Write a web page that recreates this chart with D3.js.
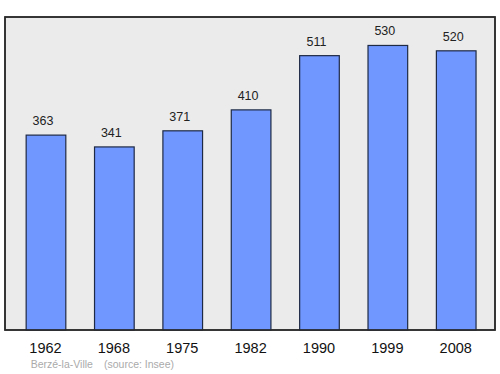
<!DOCTYPE html>
<html>
<head>
  <meta charset="utf-8">
  <script src="https://d3js.org/d3.v7.min.js"></script>
  <style>
    body { margin: 0; background: #fff; }
    text { font-family: "Liberation Sans", Arial, sans-serif; }
  </style>
</head>
<body>
<script>
  "use strict";
  // population by census year
  var years = ["1962", "1968", "1975", "1982", "1990", "1999", "2008"];
  var population = [363, 341, 371, 410, 511, 530, 520];
  var townName = "Berzé-la-Ville";
  var sourceNote = "(source: Insee)";

  var width = 500, height = 374;
  var box = { left: 5, right: 495, top: 17, bottom: 330 };

  var svg = d3.select("body").append("svg")
      .attr("width", width)
      .attr("height", height);

  var x = d3.scaleBand()
      .domain(years)
      .range([11.8, 490.4])
      .paddingInner(0.42)
      .paddingOuter(0.21);

  var y = d3.scaleLinear()
      .domain([0, d3.max(population) * 1.1])
      .range([box.bottom, box.top]);

  var data = years.map(function(d, i) { return { year: d, value: population[i] }; });

  // plot background
  svg.append("rect")
      .attr("x", box.left)
      .attr("y", box.top)
      .attr("width", box.right - box.left)
      .attr("height", box.bottom - box.top)
      .attr("fill", "#ebebeb")
      .attr("stroke", "#2a2a2a")
      .attr("stroke-width", 1.5);

  svg.selectAll("rect.bar")
      .data(data)
    .enter().append("rect")
      .attr("class", "bar")
      .attr("x", function(d) { return x(d.year); })
      .attr("y", function(d) { return y(d.value); })
      .attr("width", x.bandwidth())
      .attr("height", function(d) { return box.bottom - y(d.value); })
      .attr("fill", "#7096ff")
      .attr("stroke", "#1e2a44")
      .attr("stroke-width", 1.2);

  svg.selectAll("text.val")
      .data(data)
    .enter().append("text")
      .attr("class", "val")
      .attr("x", function(d) { return x(d.year) + x.bandwidth() / 2 - 3; })
      .attr("y", function(d) { return y(d.value) - 10; })
      .attr("text-anchor", "middle")
      .attr("font-size", 12.5)
      .attr("fill", "#222")
      .text(function(d) { return d.value; });

  // redraw frame so its bottom edge sits above bars
  svg.append("rect")
      .attr("x", box.left)
      .attr("y", box.top)
      .attr("width", box.right - box.left)
      .attr("height", box.bottom - box.top)
      .attr("fill", "none")
      .attr("stroke", "#2a2a2a")
      .attr("stroke-width", 1.5);

  svg.selectAll("text.year")
      .data(years)
    .enter().append("text")
      .attr("class", "year")
      .attr("x", function(d) { return x(d) + x.bandwidth() / 2 - 0.5; })
      .attr("y", 352.5)
      .attr("text-anchor", "middle")
      .attr("font-size", 14.5)
      .attr("fill", "#111")
      .text(function(d) { return d; });

  svg.append("text")
      .attr("x", 30.7)
      .attr("y", 368)
      .attr("font-size", 10.5)
      .attr("fill", "#aaaaaa")
      .text(townName);

  svg.append("text")
      .attr("x", 104)
      .attr("y", 368)
      .attr("font-size", 10.5)
      .attr("fill", "#aaaaaa")
      .text(sourceNote);
</script>
</body>
</html>
